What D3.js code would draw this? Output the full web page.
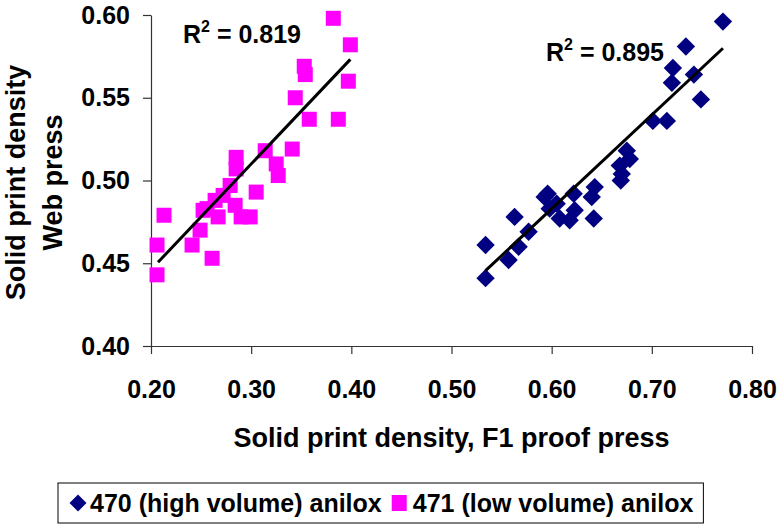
<!DOCTYPE html>
<html>
<head>
<meta charset="utf-8">
<script src="https://cdn.jsdelivr.net/npm/d3@7"></script>
<style>
  html, body { margin: 0; padding: 0; background: #fff; }
  svg { display: block; font-family: "Liberation Sans", Arial, sans-serif; font-weight: bold; }
</style>
</head>
<body>
<svg id="chart" width="780" height="525"></svg>
<script>
// ---- data ----
const seriesNames = ["470 (high volume) anilox", "471 (low volume) anilox"];
const xTicks = [0.20, 0.30, 0.40, 0.50, 0.60, 0.70, 0.80];
const yTicks = [0.40, 0.45, 0.50, 0.55, 0.60];

// 470 (high volume) anilox: [F1 proof press, Web press]
const highX = [0.771, 0.734, 0.721, 0.720, 0.742, 0.749, 0.701, 0.715, 0.675, 0.678, 0.668, 0.670, 0.669,
               0.643, 0.640, 0.642, 0.596, 0.598, 0.622, 0.623, 0.608, 0.618, 0.605, 0.563, 0.577, 0.567,
               0.534, 0.557, 0.534, 0.593];
const highY = [0.596, 0.581, 0.568, 0.559, 0.564, 0.549, 0.536, 0.536, 0.518, 0.513, 0.509, 0.504, 0.500,
               0.496, 0.490, 0.477, 0.492, 0.483, 0.492, 0.482, 0.477, 0.476, 0.486, 0.478, 0.469, 0.460,
               0.461, 0.452, 0.441, 0.490];

// 471 (low volume) anilox
const lowX = [0.382, 0.399, 0.353, 0.354, 0.397, 0.344, 0.358, 0.387, 0.341, 0.314, 0.325, 0.327, 0.285,
              0.285, 0.279, 0.305, 0.272, 0.264, 0.256, 0.284, 0.267, 0.290, 0.299, 0.213, 0.249, 0.241,
              0.206, 0.261, 0.206, 0.252];
const lowY = [0.598, 0.582, 0.569, 0.564, 0.560, 0.550, 0.537, 0.537, 0.519, 0.518, 0.510, 0.503, 0.514,
              0.507, 0.497, 0.493, 0.491, 0.488, 0.483, 0.485, 0.478, 0.478, 0.478, 0.479, 0.470, 0.461,
              0.461, 0.453, 0.443, 0.482];

// linear trend lines (endpoints) and R² labels
const highTrendX = [0.534, 0.771];
const highTrendY = [0.4455, 0.5799];
const lowTrendX = [0.207, 0.399];
const lowTrendY = [0.4506, 0.5732];
const r2Labels = ["0.895", "0.819"];

// ---- chart ----
const svg = d3.select("#chart");
const mLeft = 151, mRight = 752, mTop = 15, mBottom = 346;
const x = d3.scaleLinear().domain([0.2, 0.8]).range([mLeft, mRight]);
const y = d3.scaleLinear().domain([0.4, 0.6]).range([mBottom, mTop]);
const fmt = d3.format(".2f");

const navy = "#000080", magenta = "#FF00FF";

// axes
const xAxis = svg.append("g").attr("transform", `translate(0,${mBottom})`)
  .call(d3.axisBottom(x).tickValues(xTicks).tickFormat(fmt).tickSizeInner(8).tickSizeOuter(0).tickPadding(25));
const yAxis = svg.append("g").attr("transform", `translate(${mLeft},0)`)
  .call(d3.axisLeft(y).tickValues(yTicks).tickFormat(fmt).tickSizeInner(8).tickSizeOuter(0).tickPadding(13));
[xAxis, yAxis].forEach(g => {
  g.selectAll("path.domain").attr("stroke", "#333").attr("stroke-width", 1.2);
  g.selectAll(".tick line").attr("stroke", "#333").attr("stroke-width", 1.2);
  g.selectAll("text").attr("font-size", 25).attr("font-weight", "bold")
    .attr("font-family", '"Liberation Sans", Arial, sans-serif').attr("fill", "#000");
});
xAxis.selectAll("text").attr("dy", "0.71em").attr("y", 34);

// axis titles
svg.append("text").attr("x", (mLeft + mRight) / 2).attr("y", 447)
  .attr("text-anchor", "middle").attr("font-size", 27).text("Solid print density, F1 proof press");
const yt = svg.append("text").attr("transform", `translate(25,${(mTop + mBottom) / 2 + 2}) rotate(-90)`)
  .attr("text-anchor", "middle").attr("font-size", 27);
yt.append("tspan").attr("x", 0).attr("y", 0).text("Solid print density");
yt.append("tspan").attr("x", 0).attr("y", 37).text("Web press");

// markers
const highData = highX.map((d, i) => [d, highY[i]]);
const lowData = lowX.map((d, i) => [d, lowY[i]]);

const diamond = d3.symbol().type(d3.symbolSquare).size(13 * 13);
svg.append("g").selectAll("path").data(highData).join("path")
  .attr("d", diamond)
  .attr("transform", d => `translate(${x(d[0])},${y(d[1])}) rotate(45)`)
  .attr("fill", navy);

const sq = 15;
svg.append("g").selectAll("rect").data(lowData).join("rect")
  .attr("x", d => x(d[0]) - sq / 2).attr("y", d => y(d[1]) - sq / 2)
  .attr("width", sq).attr("height", sq).attr("fill", magenta);

// trend lines
const line = d3.line().x(d => x(d[0])).y(d => y(d[1]));
[[highTrendX, highTrendY], [lowTrendX, lowTrendY]].forEach(([tx, ty]) => {
  svg.append("path").datum(tx.map((d, i) => [d, ty[i]]))
    .attr("d", line).attr("fill", "none").attr("stroke", "#000").attr("stroke-width", 3);
});

// R² labels
function r2(xp, yp, val) {
  const t = svg.append("text").attr("x", xp).attr("y", yp).attr("font-size", 25);
  t.append("tspan").text("R");
  t.append("tspan").attr("font-size", 16).attr("dy", -11).text("2");
  t.append("tspan").attr("dy", 11).text(" = " + val);
}
r2(546, 61, r2Labels[0]);
r2(183, 43, r2Labels[1]);

// legend
const lg = svg.append("g");
const box = lg.append("rect").attr("x", 58).attr("y", 483).attr("width", 655).attr("height", 40)
  .attr("fill", "#fff").attr("stroke", "#000").attr("stroke-width", 1);
let cx = 70;
const ly = 503;
lg.append("path").attr("d", d3.symbol().type(d3.symbolSquare).size(12 * 12))
  .attr("transform", `translate(${cx + 8},${ly}) rotate(45)`).attr("fill", navy);
cx += 20;
const t1 = lg.append("text").attr("x", cx).attr("y", ly + 9).attr("font-size", 25).text(seriesNames[0]);
cx += t1.node().getComputedTextLength() + 10;
lg.append("rect").attr("x", cx).attr("y", ly - 8).attr("width", 15).attr("height", 16).attr("fill", magenta);
cx += 21;
const t2 = lg.append("text").attr("x", cx).attr("y", ly + 9).attr("font-size", 25).text(seriesNames[1]);
cx += t2.node().getComputedTextLength() + 10;
box.attr("width", cx - 58);
</script>
</body>
</html>
